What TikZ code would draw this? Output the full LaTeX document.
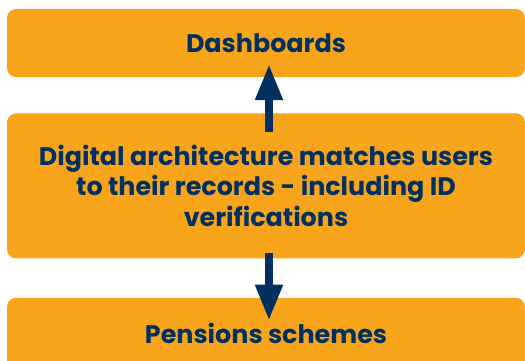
\documentclass[tikz,border=0pt]{standalone}
\usepackage{fontspec}
\setsansfont{Poppins}
\usepackage{tikz}
\usetikzlibrary{positioning,arrows.meta}
\definecolor{boxorange}{HTML}{F8A51C}
\definecolor{navy}{HTML}{00305F}
\tikzset{
    >={Triangle[length=36pt,width=26pt]},
    stage/.style = {fill=boxorange, rounded corners=9pt, inner sep=0pt,
                    minimum width=518pt, text=navy, align=center,
                    font=\sffamily\bfseries\fontsize{25.4}{30.5}\selectfont},
    flow/.style = {->, draw=navy, line width=8pt},
}
\begin{document}
\begin{tikzpicture}[x=1pt,y=-1pt]
    \clip (0,0) rectangle (525,360);
    \useasboundingbox (0,0) rectangle (525,360);

    \node (dash) [stage, minimum height=68pt] at (266,43) {Dashboards};
    \node (arch) [stage, minimum height=145pt, below=36pt of dash]
        {Digital architecture matches users\\ to their records - including ID\\ verifications};
    \node (pens) [stage, minimum height=72pt, below=39pt of arch] {Pensions schemes};

    \draw [flow] ([xshift=3pt,yshift=-19pt]arch.north) -- ([xshift=3pt,yshift=13pt]dash.south);
    \draw [flow] ([xshift=3pt,yshift=6pt]arch.south) -- ([xshift=3pt,yshift=-23pt]pens.north);
\end{tikzpicture}
\end{document}
